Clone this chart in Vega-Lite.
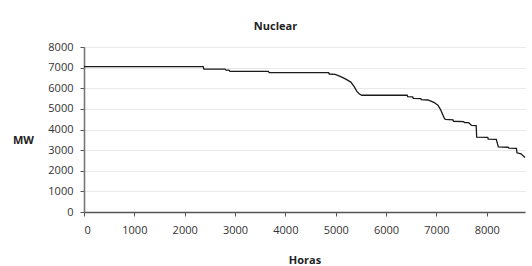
{
  "$schema": "https://vega.github.io/schema/vega-lite/v6.json",
  "autosize": {"type": "none"},
  "width": 441,
  "height": 165,
  "padding": {"left": 84, "top": 47, "right": 7, "bottom": 54},
  "background": "white",
  "title": {"text": "Nuclear", "fontSize": 11, "font": "Open Sans", "fontWeight": "bold", "color": "#222", "offset": 9, "dx": -29},
  "data": {"values": [
    {"h": 0, "mw": 7050}, {"h": 2370, "mw": 7050}, {"h": 2380, "mw": 6930}, {"h": 2800, "mw": 6930},
    {"h": 2820, "mw": 6880}, {"h": 2880, "mw": 6880}, {"h": 2900, "mw": 6820}, {"h": 3660, "mw": 6820},
    {"h": 3680, "mw": 6760}, {"h": 4860, "mw": 6760}, {"h": 4870, "mw": 6690}, {"h": 4990, "mw": 6670},
    {"h": 5100, "mw": 6560}, {"h": 5200, "mw": 6440}, {"h": 5300, "mw": 6300}, {"h": 5360, "mw": 6100},
    {"h": 5420, "mw": 5850}, {"h": 5470, "mw": 5720}, {"h": 5520, "mw": 5660}, {"h": 6420, "mw": 5660},
    {"h": 6430, "mw": 5590}, {"h": 6530, "mw": 5580}, {"h": 6540, "mw": 5510}, {"h": 6690, "mw": 5500},
    {"h": 6700, "mw": 5450}, {"h": 6830, "mw": 5430}, {"h": 6950, "mw": 5320}, {"h": 7030, "mw": 5180},
    {"h": 7080, "mw": 4980}, {"h": 7120, "mw": 4750}, {"h": 7160, "mw": 4530}, {"h": 7180, "mw": 4490},
    {"h": 7330, "mw": 4470}, {"h": 7340, "mw": 4400}, {"h": 7540, "mw": 4380}, {"h": 7560, "mw": 4340},
    {"h": 7640, "mw": 4330}, {"h": 7700, "mw": 4200}, {"h": 7790, "mw": 4190}, {"h": 7800, "mw": 3630},
    {"h": 8020, "mw": 3620}, {"h": 8030, "mw": 3530}, {"h": 8190, "mw": 3520}, {"h": 8230, "mw": 3160},
    {"h": 8420, "mw": 3140}, {"h": 8440, "mw": 3100}, {"h": 8590, "mw": 3090}, {"h": 8600, "mw": 2870},
    {"h": 8680, "mw": 2820}, {"h": 8760, "mw": 2640}
  ]},
  "mark": {"type": "line", "color": "#1a1a1a", "strokeWidth": 1.3, "interpolate": "linear"},
  "encoding": {
    "x": {"field": "h", "type": "quantitative", "title": "Horas",
      "scale": {"domain": [0, 8760], "nice": false},
      "axis": {"values": [0, 1000, 2000, 3000, 4000, 5000, 6000, 7000, 8000], "grid": false, "format": "d",
        "domainColor": "#555", "domainWidth": 1.3, "tickColor": "#555", "tickSize": 4,
        "labelPadding": 8, "titlePadding": 19}},
    "y": {"field": "mw", "type": "quantitative", "title": "MW",
      "scale": {"domain": [0, 8000], "nice": false},
      "axis": {"values": [0, 1000, 2000, 3000, 4000, 5000, 6000, 7000, 8000], "grid": true, "format": "d",
        "gridColor": "#c8c8c8", "gridDash": [1, 1], "gridWidth": 0.8,
        "domainColor": "#777", "domainWidth": 1.6, "tickColor": "#555", "tickSize": 4,
        "labelPadding": 7, "titleAngle": 0, "titleAlign": "center", "titleBaseline": "middle",
        "titleX": -61, "titleY": 93}}
  },
  "config": {
    "view": {"stroke": null},
    "axis": {"labelFont": "Open Sans", "labelFontSize": 11, "labelColor": "#333",
      "titleFont": "Open Sans", "titleFontSize": 11, "titleFontWeight": "bold", "titleColor": "#222"}
  }
}
